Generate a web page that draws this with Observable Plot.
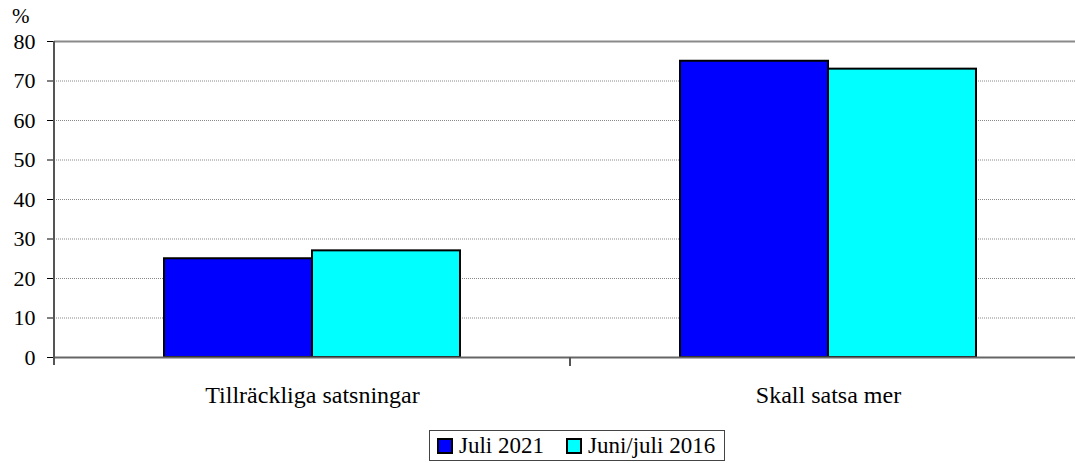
<!DOCTYPE html>
<html>
<head>
<meta charset="utf-8">
<script src="https://cdn.jsdelivr.net/npm/d3@7"></script>
<script src="https://cdn.jsdelivr.net/npm/@observablehq/plot@0.6"></script>
<style>
  html, body { margin: 0; padding: 0; background: #fff; overflow: hidden; }
  #wrap { position: relative; width: 1075px; height: 463px; overflow: hidden; font-family: "Liberation Serif", "Times New Roman", serif; }
  #chart svg { max-width: none !important; }
  #unit { position: absolute; left: 12px; top: 4px; font-size: 21px; color: #000; }
  #legend { position: absolute; left: 429px; top: 430px; display: flex; align-items: center; gap: 22px;
            border: 1px solid #444; background: #fff; padding: 2px 9px 2px 7px; font-size: 23px; height: 31px; box-sizing: border-box; }
  .item { display: flex; align-items: center; gap: 6px; }
  .sw { width: 12px; height: 12px; border: 2px solid #000; }
</style>
</head>
<body>
<div id="wrap">
  <div id="chart"></div>
  <div id="unit">%</div>
  <div id="legend"></div>
</div>
<script>
const categories = ["Tillräckliga satsningar", "Skall satsa mer"];
const series = ["Juli 2021", "Juni/juli 2016"];
const juli2021 = [25, 75];
const juni2016 = [27, 73];
const colors = ["#0000ff", "#00ffff"];
const yGrid = [10, 20, 30, 40, 50, 60, 70];

const data = categories.flatMap((c, i) => [
  {category: c, series: series[0], value: juli2021[i]},
  {category: c, series: series[1], value: juni2016[i]}
]);

const plot = Plot.plot({
  width: 1086,
  height: 415,
  marginLeft: 54,
  marginRight: 0,
  marginTop: 41,
  marginBottom: 58,
  style: {fontFamily: "Liberation Serif", fontSize: "22px", background: "white", color: "black", maxWidth: "none"},
  facet: {data, x: "category"},
  fx: {domain: categories, padding: 0, label: null, tickSize: 0, tickPadding: 28, axis: "bottom"},
  x: {domain: series, paddingInner: 0, paddingOuter: 0.74, axis: null},
  y: {domain: [0, 80], ticks: 8, tickSize: 7, tickPadding: 12, label: null},
  color: {domain: series, range: colors},
  marks: [
    Plot.ruleY(yGrid, {stroke: "#888", strokeDasharray: "1,1", strokeWidth: 1}),
    Plot.ruleY([80], {stroke: "#8a8a8a", strokeWidth: 2}),
    Plot.barY(data, {x: "series", y: "value", fill: "series", stroke: "#000", strokeWidth: 2}),
    Plot.ruleY([0], {stroke: "#666", strokeWidth: 2})
  ]
});
document.getElementById("chart").appendChild(plot);

const svg = d3.select(plot);
svg.attr("font-family", "Liberation Serif").attr("font-size", 22);
svg.selectAll("text").attr("font-family", "Liberation Serif").attr("font-size", 22);
// category labels are a little larger than the value ticks
const fxSet = new Set(categories);
svg.selectAll("text").filter(function() { return fxSet.has(this.textContent); })
  .attr("font-size", 24).style("font-size", "24px");

// axis line on the left and boundary ticks below the category axis
const fx = plot.scale("fx");
const y = plot.scale("y");
const g = svg.append("g").attr("stroke", "#555").attr("stroke-width", 2);
const y0 = y.apply(0), yTop = y.apply(80);
const left = fx.apply(categories[0]);
g.append("line").attr("x1", left).attr("x2", left).attr("y1", yTop).attr("y2", y0 + 8);
categories.slice(1).forEach(c => {
  const xb = fx.apply(c);
  g.append("line").attr("x1", xb).attr("x2", xb).attr("y1", y0).attr("y2", y0 + 9);
});

// legend
const legend = d3.select("#legend");
series.forEach((s, i) => {
  const it = legend.append("div").attr("class", "item");
  it.append("div").attr("class", "sw").style("background", colors[i]);
  it.append("span").text(s);
});
</script>
</body>
</html>
